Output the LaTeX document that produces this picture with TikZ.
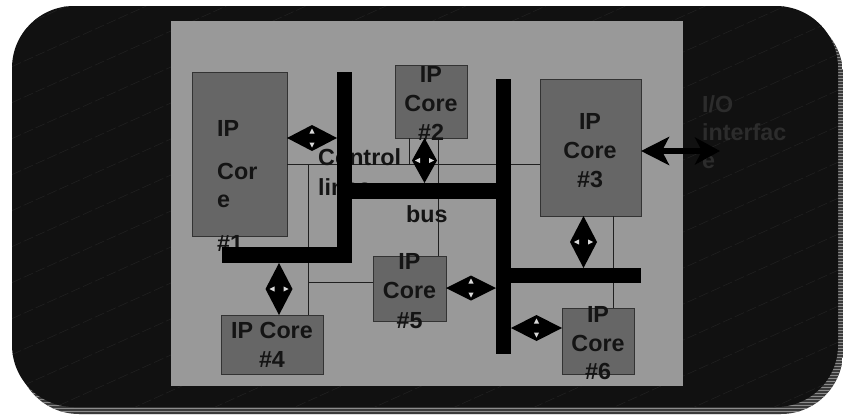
\documentclass[tikz,border=0pt]{standalone}
\usepackage{fontspec}
\setmainfont{Liberation Sans}
\usetikzlibrary{arrows.meta,calc}
\definecolor{bgblack}{HTML}{111111}
\definecolor{panelgray}{HTML}{999999}
\definecolor{coregray}{HTML}{666666}
\definecolor{txt}{HTML}{141414}
\definecolor{iotxt}{HTML}{2C2C2C}
\definecolor{shadowdark}{HTML}{3A3A3A}
\definecolor{shadowlight}{HTML}{8C8C8C}
\definecolor{hatch}{HTML}{222222}
\definecolor{notch}{HTML}{D8D8D8}
\definecolor{wire}{HTML}{202020}

% horizontal double diamond arrow between two named coordinates
\newcommand\hdia[3]{%
  \fill[black] let \p1=#1, \p2=#2, \p3=($#1!0.5!#2$) in
    (\p1) -- ({\x3},{\y3+#3pt}) -- (\p2) -- ({\x3},{\y3-#3pt}) -- cycle;
  \fill[notch] let \p3=($#1!0.5!#2$) in
    ({\x3},{\y3+9.5pt}) -- ({\x3-2.6pt},{\y3+4.5pt}) -- ({\x3+2.6pt},{\y3+4.5pt}) -- cycle
    ({\x3},{\y3-9.5pt}) -- ({\x3-2.6pt},{\y3-4.5pt}) -- ({\x3+2.6pt},{\y3-4.5pt}) -- cycle;
}
% vertical double diamond arrow
\newcommand\vdia[3]{%
  \fill[black] let \p1=#1, \p2=#2, \p3=($#1!0.5!#2$) in
    (\p1) -- ({\x3+#3pt},{\y3}) -- (\p2) -- ({\x3-#3pt},{\y3}) -- cycle;
  \fill[notch] let \p3=($#1!0.5!#2$) in
    ({\x3+9.5pt},{\y3}) -- ({\x3+4.5pt},{\y3-2.6pt}) -- ({\x3+4.5pt},{\y3+2.6pt}) -- cycle
    ({\x3-9.5pt},{\y3}) -- ({\x3-4.5pt},{\y3-2.6pt}) -- ({\x3-4.5pt},{\y3+2.6pt}) -- cycle;
}

\tikzset{
  core/.style={draw=black!80, line width=0.8pt, fill=coregray, inner sep=0pt, outer sep=0pt, anchor=north west},
  barbox/.style={fill=black, inner sep=0pt, outer sep=0pt, anchor=north west},
  lbl/.style={font=\fontsize{23.3}{28}\selectfont\bfseries, text=txt, inner sep=0pt, anchor=base},
  lbll/.style={lbl, anchor=base west},
  wireline/.style={draw=wire, line width=0.9pt},
}

\begin{document}
\begin{tikzpicture}[x=1pt,y=-1pt]
\useasboundingbox (0,0) rectangle (843,415);

% shadow with stripes
\begin{scope}
  \clip[rounded corners=62pt] (17,13) rectangle (843,414);
  \fill[shadowdark] (0,0) rectangle (843,415);
  \foreach \k in {0,...,139} \draw[shadowlight, line width=1pt] (0,{3*\k}) -- (843,{3*\k});
\end{scope}

% black rounded background with faint hatching
\begin{scope}
  \clip[rounded corners=62pt] (12,6) rectangle (838,407);
  \fill[bgblack] (0,0) rectangle (843,415);
  \foreach \k in {-2,...,24} \draw[hatch, line width=0.5pt, dash pattern=on 10pt off 3pt] (0,{36*\k}) -- (843,{36*\k-380});
\end{scope}

% grey panel
\fill[panelgray] (171,21) rectangle (683,386);

% helper coordinates
\coordinate (yW) at (0,164);
\coordinate (j1) at (308,164);
\coordinate (yJ) at (0,282);
\coordinate (x2a) at (409,0);
\coordinate (x2b) at (438,0);
\coordinate (y5) at (0,275);
\coordinate (x36) at (613,0);

% boxes
\node[core, minimum width=95pt, minimum height=164pt] (c1) at (192,72) {};
\node[core, minimum width=72pt, minimum height=73pt] (c2) at (395,65) {};
\node[core, minimum width=101pt, minimum height=137pt] (c3) at (540,79) {};
\node[core, minimum width=102pt, minimum height=59pt] (c4) at (221,315) {};
\node[core, minimum width=73pt, minimum height=65pt] (c5) at (373,256) {};
\node[core, minimum width=72pt, minimum height=66pt] (c6) at (562,308) {};

% thin wires
\draw[wireline] (c1.east |- yW) -- (c3.west |- yW);
\draw[wireline] (j1) -- (c4.north -| j1);
\draw[wireline] (j1 |- yJ) -- (c5.west |- yJ);
\draw[wireline] (c2.south -| x2a) -- (x2a |- yW);
\draw[wireline] (c2.south -| x2b) -- (c5.north -| x2b);
\draw[wireline] (c3.south -| x36) -- (c6.north -| x36);

% labels
\node[lbll] (t1a) at (217,136) {IP};
\node[lbll] (t1b) at (217,179) {Cor};
\node[lbll] (t1c) at (217,207) {e};
\node[lbll] (t1d) at (217,251) {\#1};
\node[lbl] (t2a) at (431,82) {IP};
\node[lbl] (t2b) at (431,111) {Core};
\node[lbl] (t2c) at (431,140) {\#2};
\node[lbl] (t3a) at (590,129) {IP};
\node[lbl] (t3b) at (590,158) {Core};
\node[lbl] (t3c) at (590,187) {\#3};
\node[lbl] (t4a) at (272,338) {IP Core};
\node[lbl] (t4b) at (272,367) {\#4};
\node[lbl] (t5a) at (409.5,269) {IP};
\node[lbl] (t5b) at (409.5,298) {Core};
\node[lbl] (t5c) at (409.5,328) {\#5};
\node[lbl] (t6a) at (598,322) {IP};
\node[lbl] (t6b) at (598,351) {Core};
\node[lbl] (t6c) at (598,379) {\#6};
\node[lbll] (ctl1) at (318,165) {Control};
\node[lbll] (ctl2) at (318,195) {lines};
\node[lbll] (busl) at (406,222) {bus};
\node[lbll, text=iotxt] (io1) at (702,112) {I/O};
\node[lbll, text=iotxt] (io2) at (702,140) {interfac};
\node[lbll, text=iotxt] (io3) at (702,168) {e};

% bars
\node[barbox, minimum width=15pt, minimum height=191pt] (ctrlv) at (337,72) {};
\node[barbox, minimum width=130pt, minimum height=16pt] (ctrlh) at (222,247) {};
\node[barbox, minimum width=148pt, minimum height=16pt] (bush) at (350,183) {};
\node[barbox, minimum width=15pt, minimum height=275pt] (busv) at (496,79) {};
\node[barbox, minimum width=130pt, minimum height=15pt] (busr) at (511,268) {};

% diamond double arrows
\coordinate (yA) at (0,138);
\coordinate (aL) at (c1.east |- yA);
\coordinate (aR) at (ctrlv.west |- yA);
\hdia{(aL)}{(aR)}{13}

\coordinate (xB) at (424.5,0);
\coordinate (bT) at (c2.south -| xB);
\coordinate (bB) at (bush.north -| xB);
\vdia{(bT)}{(bB)}{12.5}

\coordinate (xC) at (583.5,0);
\coordinate (cT) at (c3.south -| xC);
\coordinate (cB) at (busr.north -| xC);
\vdia{(cT)}{(cB)}{13.5}

\coordinate (xD) at (279,0);
\coordinate (dT) at (ctrlh.south -| xD);
\coordinate (dB) at (c4.north -| xD);
\vdia{(dT)}{(dB)}{13.5}

\coordinate (yE) at (0,288);
\coordinate (eL) at (c5.east |- yE);
\coordinate (eR) at (busv.west |- yE);
\hdia{(eL)}{(eR)}{12.5}

\coordinate (yF) at (0,328);
\coordinate (fL) at (busv.east |- yF);
\coordinate (fR) at (c6.west |- yF);
\hdia{(fL)}{(fR)}{13}

% I/O arrow
\coordinate (yG) at (0,151);
\coordinate (ioend) at (720,151);
\draw[line width=5.5pt, {Stealth[length=28pt,width=28pt,inset=7pt]}-{Stealth[length=25pt,width=27pt,inset=7pt]}]
  (c3.east |- yG) -- (ioend);
\end{tikzpicture}
\end{document}
